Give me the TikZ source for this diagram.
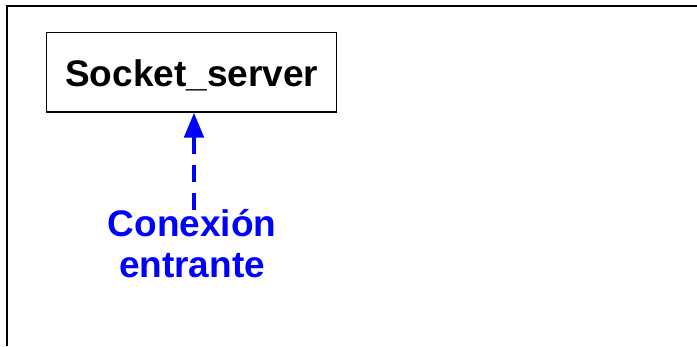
\documentclass[tikz,border=0pt]{standalone}
\usepackage{fontspec}
\setmainfont{Liberation Sans}
\usetikzlibrary{arrows.meta}
\tikzset{
  frame/.style={line width=2pt, draw=black},
  boxnode/.style={draw=black, line width=1.3pt, minimum width=290pt, minimum height=79.3pt, inner sep=0pt},
  boxtext/.style={font=\fontsize{37}{40}\selectfont\bfseries, inner sep=0pt},
  lbltext/.style={font=\fontsize{37}{40.3}\selectfont\bfseries, text=blue, align=center, inner sep=0pt},
  conn/.style={draw=blue, line width=4.7pt, dash pattern=on 17pt off 11pt, -{Triangle[length=25pt,width=19pt]}}
}
\begin{document}
\begin{tikzpicture}[x=1pt,y=-1pt]
\useasboundingbox (0,0) rectangle (697,346);
\draw[frame] (7,346) -- (7,6.3) -- (697,6.3);
\node[boxnode] (srv) at (191.7,72.3) {};
\node[boxtext, anchor=base] (srvtxt) at (191.7,86.5) {Socket\_server};
\node[lbltext, anchor=base] (lbl) at (192,277) {Conexión\\entrante};
\coordinate (a0) at (194,210);
\draw[conn] (a0) -- (a0 |- srv.south);
\end{tikzpicture}
\end{document}
